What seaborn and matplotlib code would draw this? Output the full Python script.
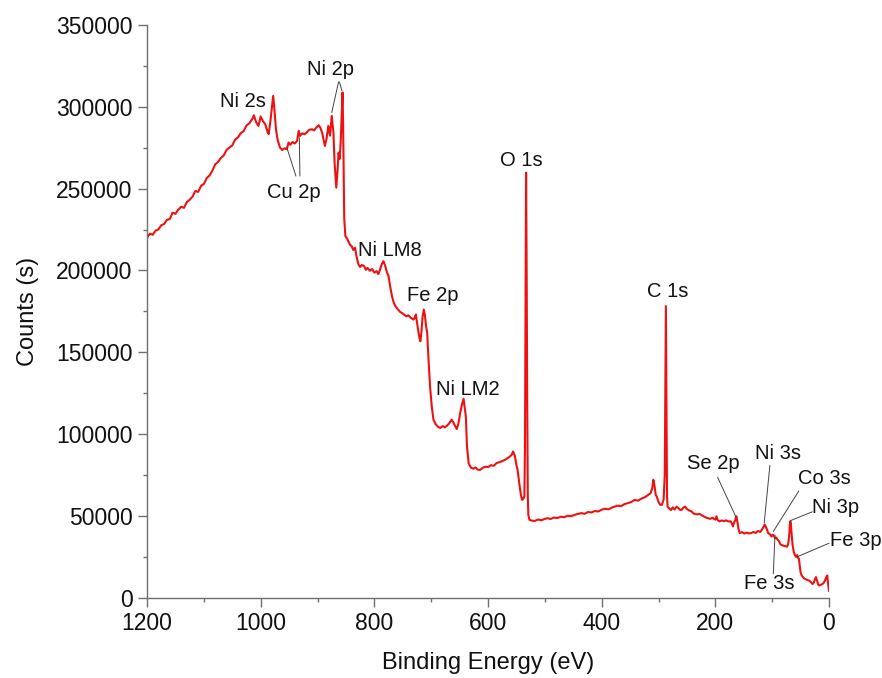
import numpy as np
import pandas as pd
import seaborn as sns
import matplotlib.pyplot as plt
from matplotlib.ticker import MultipleLocator

# XPS survey spectrum: binding energy (eV) and counts
energy = [
    1200, 1195, 1190, 1185, 1180, 1175, 1170, 1165, 1160, 1155, 1150, 1145, 1140, 1135, 1130,
    1125, 1120, 1115, 1110, 1105, 1100, 1095, 1090, 1085, 1080, 1075, 1070, 1065, 1060, 1055,
    1050, 1045, 1040, 1035, 1030, 1025, 1020, 1015, 1012, 1008, 1004, 1000, 996, 992, 988,
    986, 983, 980, 978, 976, 973, 970, 966, 962, 958, 954, 951, 948, 944, 940,
    936, 933, 931, 927, 923, 919, 915, 910, 906, 902, 898, 895, 892, 889, 887,
    884, 881, 878, 875, 872, 870, 867, 865, 863, 861, 859, 857, 856, 855, 854,
    853, 851, 848, 846, 843, 840, 837, 834, 831, 828, 825, 822, 818, 815, 812,
    808, 804, 800, 796, 793, 790, 787, 784, 781, 778, 775, 772, 769, 766, 763,
    759, 755, 751, 748, 744, 740, 736, 731, 729, 727, 724, 721, 719, 717, 715,
    713, 711, 709, 707, 705, 702, 699, 696, 692, 688, 684, 680, 676, 672, 668,
    664, 661, 658, 655, 652, 649, 646, 643, 641, 639, 637, 634, 630, 626, 622,
    618, 614, 610, 605, 600, 595, 590, 585, 580, 575, 570, 566, 562, 558, 556,
    553, 550, 548, 545, 542, 540, 538, 536, 535, 534, 533, 532, 531, 530, 529,
    527, 524, 518, 512, 506, 500, 495, 490, 484, 478, 472, 466, 460, 454, 448,
    442, 436, 430, 424, 418, 412, 406, 400, 394, 388, 382, 377, 372, 366, 360,
    354, 348, 342, 336, 330, 324, 318, 314, 311, 309, 307, 305, 303, 300, 297,
    294, 291, 289, 288, 287, 286, 285, 284, 281, 278, 275, 272, 268, 265, 262,
    259, 256, 253, 250, 246, 242, 239, 236, 232, 228, 225, 221, 217, 213, 209,
    205, 203, 200, 198, 196, 193, 189, 185, 181, 177, 173, 170, 169, 167, 165,
    163, 161, 159, 157, 153, 149, 145, 141, 137, 133, 129, 125, 121, 118, 115,
    113, 110, 107, 104, 101, 99, 97, 95, 93, 91, 88, 86, 84, 80, 77,
    74, 72, 70, 69, 68, 67, 66, 64, 62, 60, 58, 56, 55, 53, 52,
    50, 48, 45, 42, 38, 35, 31, 29, 27, 25, 23, 21, 19, 17, 14,
    10, 7, 5, 3, 2, 0,
]
counts = [
    220000, 222500, 221800, 224300, 225100, 227600, 228400, 230900, 231500, 235300, 234600, 237200, 238900, 238300, 241800,
    243200, 245100, 248600, 248000, 251700, 252900, 256400, 258100, 261000, 264900, 266300, 268800, 270300, 273700, 275100,
    276400, 280000, 281300, 283900, 285200, 288600, 289900, 292400, 294800, 290600, 288300, 294100, 291200, 289400, 284800,
    283300, 291000, 300500, 306700, 299000, 286000, 279500, 275100, 273600, 274700, 274100, 278200, 276800, 278500, 277600,
    279100, 285300, 282200, 283800, 283200, 284300, 285900, 286300, 285600, 287400, 288800, 287200, 284300, 279500, 276100,
    280700, 288300, 282400, 294500, 284300, 266000, 250600, 259800, 272000, 268100, 280300, 300000, 308800, 290000, 262000,
    232000, 221000, 219500, 218000, 215800, 214900, 212500, 213900, 208000, 203700, 202100, 203400, 202600, 200400, 201600,
    199800, 200900, 198700, 199600, 197800, 200500, 203800, 205700, 202900, 199000, 196500, 190000, 184300, 180500, 178200,
    176400, 174800, 173900, 173100, 172000, 172600, 171100, 170000, 171200, 173100, 166000, 159500, 156700, 163000, 172000,
    176100, 172500, 166000, 161900, 147500, 129200, 117000, 108800, 106000, 104500, 103700, 104900, 104100, 105200, 106700,
    108800, 107200, 105000, 103100, 106500, 112900, 117800, 121600, 116000, 110800, 92400, 82000, 79500, 78800, 79600,
    78300, 78100, 79200, 80100, 79800, 81000, 80600, 82300, 82800, 83500, 84300, 85200, 86100, 87500, 89400,
    87000, 81000, 78200, 70000, 62500, 59800, 60500, 61800, 90000, 180000, 259800, 200000, 120000, 62000, 50500,
    47600, 47200, 46900, 47800, 47300, 48200, 48600, 48100, 49000, 48700, 49500, 49200, 50100, 49800, 50600,
    51200, 51700, 51300, 52400, 52100, 53000, 52700, 53800, 54400, 54000, 55100, 55700, 56300, 55900, 57200,
    57800, 58500, 59800, 59300, 60600, 61400, 62900, 63800, 67000, 72100, 68500, 63000, 61800, 58500, 56800,
    56800, 60000, 75000, 130000, 178200, 120000, 62000, 55700, 54500, 53600, 55200, 53900, 55700, 54800, 53700,
    53700, 55100, 55700, 54200, 53300, 52800, 51700, 51200, 50900, 51300, 50600, 49800, 49100, 48600, 48200,
    48900, 48300, 47700, 49800, 47500, 46700, 47200, 46800, 47300, 46600, 46700, 44800, 43600, 45800, 47500,
    49800, 46000, 41500, 39500, 40100, 39200, 39800, 39300, 39500, 40200, 39600, 40800, 40200, 41600, 43500,
    44700, 42500, 39500, 38800, 37400, 38600, 37900, 36300, 36800, 35700, 34600, 32900, 32300, 31800, 31500,
    31200, 32500, 38000, 44000, 46700, 45000, 40000, 32000, 28000, 26100, 25000, 26100, 24500, 24000, 21000,
    15500, 13600, 12200, 11500, 10800, 10500, 9200, 8400, 9000, 11000, 12600, 10500, 8000, 7500, 7900,
    8800, 10500, 12500, 13600, 10000, 4000,
]

# Peak labels: (text, text position (eV, counts), leader-line segments)
peak_labels = [
    ("Ni 2s", (1031, 303500), []),
    ("Ni 2p", (878, 323000), [((863, 315200), (875, 296500)), ((861.5, 315200), (857, 309800))]),
    ("Cu 2p", (941, 247700), [((938, 257700), (954, 275100)), ((931, 257700), (932, 281200))]),
    ("Ni LM8", (772, 212500), []),
    ("Fe 2p", (697, 184600), []),
    ("Ni LM2", (636, 127200), []),
    ("O 1s", (542, 266900), []),
    ("C 1s", (284.5, 187200), []),
    ("Se 2p", (204, 82100), [((196, 73600), (163, 48800))]),
    ("Ni 3s", (89, 88100), [((104, 80900), (114, 45700))]),
    ("Co 3s", (8, 73100), [((53, 65300), (98, 40500))]),
    ("Ni 3p", (-12, 54900), [((29.5, 52500), (68, 47100))]),
    ("Fe 3p", (-47, 34800), [((0, 33300), (56, 25000))]),
    ("Fe 3s", (104.5, 8500), [((98, 14700), (95, 38400))]),
]

x_ticks = [1200, 1000, 800, 600, 400, 200, 0]
y_ticks = [0, 50000, 100000, 150000, 200000, 250000, 300000, 350000]

df = pd.DataFrame({"Binding Energy (eV)": energy, "Counts (s)": counts})

sns.set_theme(style="ticks")
plt.rcParams["font.family"] = ["Liberation Sans", "DejaVu Sans"]

fig = plt.figure(figsize=(8.82, 6.78), dpi=100)
ax = fig.add_axes([0.1667, 0.1184, 0.7732, 0.8447])

sns.lineplot(data=df, x="Binding Energy (eV)", y="Counts (s)", sort=False,
             estimator=None, color="#ee1111", linewidth=1.5, ax=ax)

ax.set_xlim(1200, 0)
ax.set_ylim(0, 350000)
ax.set_xticks(x_ticks)
ax.set_yticks(y_ticks)
ax.set_xticklabels([str(v) for v in x_ticks])
ax.set_yticklabels([str(v) for v in y_ticks])
ax.xaxis.set_minor_locator(MultipleLocator(100))
ax.yaxis.set_minor_locator(MultipleLocator(25000))

spine_col = "#707070"
for side in ("top", "right"):
    ax.spines[side].set_visible(False)
for side in ("left", "bottom"):
    ax.spines[side].set_color(spine_col)
    ax.spines[side].set_linewidth(1.0)
ax.tick_params(which="major", direction="out", length=6.5, width=1.0,
               color=spine_col, labelsize=16.5, labelcolor="#111111", pad=4)
ax.tick_params(which="minor", direction="out", length=3, width=1.0, color=spine_col)

ax.set_xlabel("Binding Energy (eV)", fontsize=17, color="#111111", labelpad=12)
ax.set_ylabel("Counts (s)", fontsize=17, color="#111111", labelpad=12)

for text, (tx, ty), segs in peak_labels:
    ax.text(tx, ty, text, ha="center", va="center", fontsize=14.5,
            color="#111111", clip_on=False)
    for (x0, y0), (x1, y1) in segs:
        ax.plot([x0, x1], [y0, y1], color="#444444", linewidth=0.7, clip_on=False)

fig.savefig("out.png", dpi=100, facecolor="white")
